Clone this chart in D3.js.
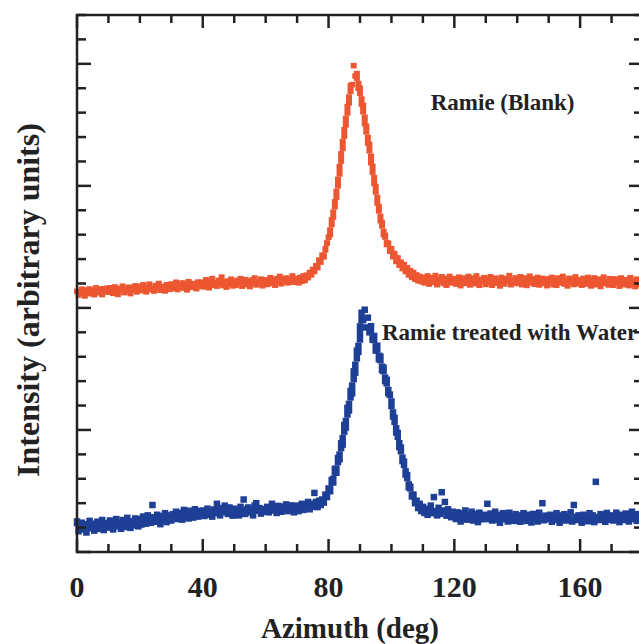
<!DOCTYPE html>
<html>
<head>
<meta charset="utf-8">
<script src="https://cdn.jsdelivr.net/npm/d3@7"></script>
<style>
  body { margin: 0; background: #fff; }
  svg { display: block; }
  .tick-label, .axis-title { font-family: "Liberation Serif", "Times New Roman", serif; font-weight: bold; fill: #222; }
</style>
</head>
<body>
<div id="chart"></div>
<script>
// azimuth samples every 0.5 deg, 0..180
const step = 0.5;

// Ramie (Blank) intensities (arbitrary units)
const blankIntensity = [
  2136, 2105, 2131, 2154, 2119, 2098, 2147, 2128, 2155, 2116, 2140, 2108, 2164, 2124, 2137, 2156, 2109, 2153, 2133, 2161,
  2128, 2165, 2150, 2119, 2172, 2139, 2111, 2160, 2146, 2178, 2125, 2155, 2138, 2170, 2117, 2162, 2149, 2181, 2131, 2158,
  2176, 2142, 2189, 2160, 2131, 2171, 2195, 2150, 2166, 2138, 2184, 2158, 2200, 2145, 2175, 2163, 2139, 2190, 2170, 2152,
  2196, 2159, 2180, 2210, 2150, 2188, 2171, 2205, 2162, 2193, 2148, 2215, 2179, 2168, 2200, 2185, 2157, 2212, 2176, 2198,
  2210, 2172, 2230, 2195, 2165, 2215, 2240, 2186, 2205, 2178, 2225, 2199, 2252, 2183, 2212, 2170, 2220, 2194, 2235, 2180,
  2215, 2185, 2226, 2200, 2240, 2178, 2210, 2232, 2190, 2218, 2175, 2228, 2205, 2245, 2188, 2212, 2196, 2236, 2181, 2222,
  2230, 2192, 2215, 2248, 2200, 2226, 2186, 2240, 2212, 2258, 2197, 2230, 2218, 2245, 2205, 2236, 2222, 2262, 2210, 2240,
  2240, 2205, 2250, 2218, 2262, 2225, 2268, 2248, 2290, 2270, 2315, 2298, 2345, 2330, 2392, 2375, 2432, 2418, 2485, 2530,
  2580, 2600, 2720, 2745, 2870, 2905, 3050, 3100, 3260, 3310, 3460, 3500, 3650, 3680, 3820, 3830, 3985, 3900, 3920, 3800,
  3800, 3670, 3660, 3510, 3490, 3350, 3340, 3190, 3160, 3020, 2995, 2860, 2830, 2715, 2700, 2600, 2595, 2520, 2530, 2465,
  2485, 2420, 2445, 2380, 2410, 2350, 2375, 2322, 2355, 2298, 2330, 2270, 2305, 2250, 2290, 2235, 2270, 2222, 2258, 2215,
  2250, 2205, 2238, 2262, 2195, 2228, 2248, 2210, 2265, 2190, 2235, 2218, 2255, 2200, 2242, 2186, 2230, 2258, 2205, 2225,
  2240, 2195, 2228, 2252, 2182, 2215, 2245, 2200, 2232, 2258, 2188, 2220, 2243, 2198, 2262, 2210, 2185, 2235, 2218, 2248,
  2192, 2238, 2210, 2255, 2186, 2226, 2244, 2202, 2232, 2180, 2250, 2215, 2196, 2240, 2222, 2265, 2190, 2230, 2208, 2246,
  2200, 2235, 2255, 2190, 2222, 2245, 2184, 2215, 2260, 2205, 2238, 2194, 2228, 2250, 2188, 2218, 2242, 2200, 2232, 2182,
  2238, 2212, 2250, 2190, 2225, 2185, 2245, 2205, 2232, 2258, 2196, 2220, 2180, 2242, 2210, 2236, 2192, 2254, 2214, 2198,
  2230, 2186, 2242, 2210, 2195, 2250, 2205, 2180, 2228, 2246, 2190, 2218, 2236, 2176, 2225, 2252, 2200, 2214, 2188, 2240,
  2212, 2185, 2238, 2200, 2226, 2178, 2245, 2208, 2190, 2232, 2215, 2182, 2248, 2196, 2220, 2175, 2236, 2205, 2190, 2228, 2210
];

// Ramie treated with Water intensities
const waterIntensity = [
  250, 170, 215, 240, 185, 228, 160, 210, 255, 195, 232, 175, 218, 248, 190, 205, 262, 180, 225, 238,
  200, 258, 230, 185, 245, 270, 210, 236, 190, 262, 225, 205, 280, 240, 198, 252, 218, 275, 232, 210,
  270, 225, 290, 250, 232, 300, 262, 240, 385, 285, 248, 305, 270, 228, 295, 262, 318, 245, 280, 300,
  258, 310, 285, 330, 270, 298, 320, 265, 345, 292, 305, 275, 338, 300, 282, 350, 310, 290, 335, 318,
  340, 295, 325, 355, 305, 330, 290, 348, 318, 395, 336, 300, 360, 325, 380, 342, 312, 365, 330, 298,
  355, 318, 340, 300, 370, 335, 430, 312, 350, 365, 325, 345, 300, 380, 400, 338, 360, 315, 352, 330,
  348, 370, 325, 355, 395, 340, 365, 320, 378, 352, 330, 372, 345, 390, 335, 360, 382, 348, 325, 370,
  380, 335, 372, 395, 345, 385, 366, 410, 350, 395, 370, 484, 410, 368, 420, 385, 430, 405, 470, 450,
  520, 498, 590, 570, 680, 650, 770, 760, 890, 880, 1040, 1020, 1180, 1160, 1320, 1300, 1480, 1470, 1650, 1640,
  1790, 1960, 1900, 1985, 1840, 1920, 1800, 1850, 1740, 1770, 1650, 1690, 1580, 1600, 1490, 1510, 1400, 1410, 1300, 1290,
  1230, 1110, 1100, 980, 975, 860, 855, 745, 740, 635, 630, 530, 535, 455, 470, 400, 420, 360, 395, 335,
  370, 320, 355, 305, 345, 380, 318, 450, 335, 300, 362, 312, 490, 340, 410, 298, 350, 320, 285, 330,
  310, 270, 325, 290, 250, 318, 280, 340, 265, 300, 275, 330, 258, 312, 288, 245, 322, 295, 268, 305,
  300, 395, 270, 315, 258, 290, 330, 262, 305, 240, 285, 318, 268, 298, 250, 322, 275, 292, 255, 310,
  265, 300, 248, 290, 318, 272, 255, 305, 280, 242, 312, 268, 295, 250, 322, 278, 400, 260, 298, 285,
  270, 305, 248, 290, 262, 318, 280, 240, 300, 275, 310, 258, 292, 270, 325, 250, 385, 288, 262, 300,
  275, 240, 305, 268, 290, 252, 318, 278, 300, 245, 575, 285, 262, 310, 270, 295, 248, 320, 282, 265,
  300, 258, 290, 322, 268, 245, 305, 280, 262, 315, 275, 250, 295, 330, 270, 288, 255, 310, 278, 262, 295
];

const xTickLabels = [0, 40, 80, 120, 160];
const annotations = [
  { text: "Ramie (Blank)", x: 112.5, y: 3624 },
  { text: "Ramie treated with Water", x: 97, y: 1735 }
];

const size = { width: 639, height: 644 };
const plot = { left: 77, right: 643, top: 15, bottom: 552 };

const svg = d3.select("#chart")
  .append("svg")
  .attr("width", size.width)
  .attr("height", size.height);

//scales
const x = d3.scaleLinear()
  .domain([0, 180])
  .range([plot.left, plot.right]);

const y = d3.scaleLinear()
  .domain([0, 4400])
  .range([plot.bottom, plot.top]);

//turn the arrays into points
const blank = blankIntensity.map(function(v, i) { return { a: i * step, v: v }; });
const water = waterIntensity.map(function(v, i) { return { a: i * step, v: v }; });

//draw one series as small dashes. On steep flanks a dash is stretched
//half-way to its neighbours so the trace stays unbroken; lone stray
//points (both neighbours far off on the same side) are left as dots.
function drawSeries(data, color, w, h) {
  const py = data.map(function(d) { return y(d.v); });
  const stray = py.map(function(yi, i) {
    if (i === 0 || i === py.length - 1) return false;
    const dp = py[i - 1] - yi, dn = py[i + 1] - yi;
    return dp * dn > 0 && Math.min(Math.abs(dp), Math.abs(dn)) > 8;
  });

  const g = svg.append("g").attr("fill", color);
  g.selectAll("rect")
    .data(data)
    .enter().append("rect")
    .each(function(d, i) {
      const yi = py[i];
      let top = yi - h / 2, bot = yi + h / 2;
      if (!stray[i]) {
        [i - 1, i + 1].forEach(function(j) {
          if (j < 0 || j >= py.length || stray[j]) return;
          const mid = (yi + py[j]) / 2;
          if (Math.abs(py[j] - yi) > h) {
            top = Math.min(top, mid);
            bot = Math.max(bot, mid);
          }
        });
      }
      d3.select(this)
        .attr("x", x(d.a) - w / 2)
        .attr("y", top)
        .attr("width", w)
        .attr("height", bot - top);
    });
}

drawSeries(blank, "#ec5631", 6, 5.5);
drawSeries(water, "#1e3f96", 6.5, 6.5);

//axes: ticks drawn inward on all four sides
const axisColor = "#222";
const xMinor = d3.range(0, 181, 10);
const yMinor = d3.range(0, 4401, 200);

const frame = svg.append("g").attr("stroke", axisColor).attr("stroke-width", 2.5);

frame.selectAll(".xt-bottom").data(xMinor).enter().append("line")
  .attr("x1", function(d) { return x(d); }).attr("x2", function(d) { return x(d); })
  .attr("y1", plot.bottom)
  .attr("y2", function(d) { return plot.bottom - (d % 40 === 0 ? 13 : 8); });

frame.selectAll(".xt-top").data(xMinor).enter().append("line")
  .attr("x1", function(d) { return x(d); }).attr("x2", function(d) { return x(d); })
  .attr("y1", plot.top)
  .attr("y2", function(d) { return plot.top + (d % 40 === 0 ? 13 : 8); });

frame.selectAll(".yt-left").data(yMinor).enter().append("line")
  .attr("y1", function(d) { return y(d); }).attr("y2", function(d) { return y(d); })
  .attr("x1", plot.left)
  .attr("x2", function(d) { return plot.left + (d % 1000 === 0 ? 14 : 9); });

frame.selectAll(".yt-right").data(yMinor).enter().append("line")
  .attr("y1", function(d) { return y(d); }).attr("y2", function(d) { return y(d); })
  .attr("x1", plot.right)
  .attr("x2", function(d) { return plot.right - (d % 1000 === 0 ? 14 : 9); });

frame.append("rect")
  .attr("x", plot.left).attr("y", plot.top)
  .attr("width", plot.right - plot.left)
  .attr("height", plot.bottom - plot.top)
  .attr("fill", "none");

//tick labels
svg.selectAll(".tick-label")
  .data(xTickLabels)
  .enter().append("text")
  .attr("class", "tick-label")
  .attr("x", function(d) { return x(d); })
  .attr("y", 597)
  .attr("text-anchor", "middle")
  .attr("font-size", 30)
  .text(function(d) { return d; });

//axis titles
svg.append("text")
  .attr("class", "axis-title")
  .attr("x", 350)
  .attr("y", 638)
  .attr("text-anchor", "middle")
  .attr("font-size", 29)
  .text("Azimuth (deg)");

svg.append("text")
  .attr("class", "axis-title")
  .attr("transform", "translate(39,300) rotate(-90)")
  .attr("text-anchor", "middle")
  .attr("font-size", 32)
  .text("Intensity (arbitrary units)");

//series annotations
svg.selectAll(".note")
  .data(annotations)
  .enter().append("text")
  .attr("class", "axis-title")
  .attr("x", function(d) { return x(d.x); })
  .attr("y", function(d) { return y(d.y); })
  .attr("font-size", 23)
  .text(function(d) { return d.text; });
</script>
</body>
</html>
